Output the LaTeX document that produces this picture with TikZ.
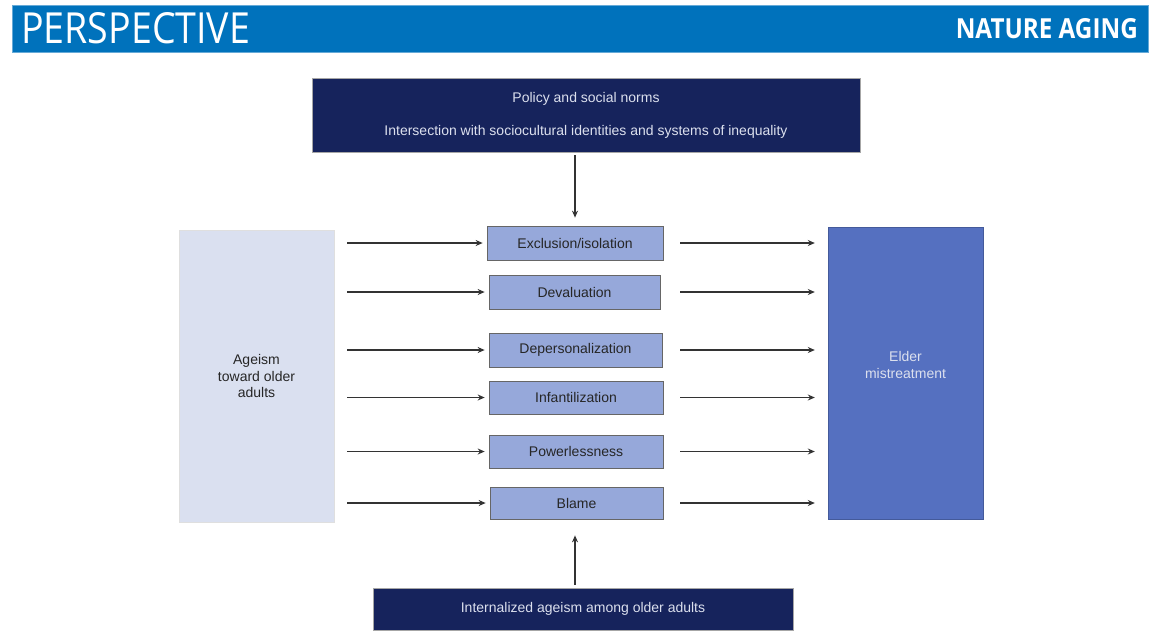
\documentclass[tikz,border=0pt]{standalone}
\usepackage{fontspec}
\setmainfont{Liberation Sans}
\newfontfamily\headfont{Open Sans}
\usetikzlibrary{arrows.meta,calc}
\definecolor{hdrblue}{HTML}{0072BC}
\definecolor{navy}{HTML}{16235C}
\definecolor{paleblue}{HTML}{DAE0F0}
\definecolor{midblue}{HTML}{96A8DA}
\definecolor{deepblue}{HTML}{5570C0}
\definecolor{lighttxt}{HTML}{DCE0EE}
\definecolor{arrowgray}{HTML}{333333}
\tikzset{
  navybox/.style={draw=gray!70, line width=0.6pt, fill=navy, text=lighttxt, font=\fontsize{14}{16}\selectfont, inner sep=0pt},
  midbox/.style={draw=gray!80!black, line width=0.7pt, fill=midblue, text=black!85, font=\fontsize{14}{16}\selectfont, inner sep=0pt},
  sidebox/.style={inner sep=0pt, font=\fontsize{14}{16.5}\selectfont, align=center},
  arr/.style={draw=arrowgray, line width=1.3pt, -{Stealth[length=7pt,width=6pt]}},
}
\begin{document}
\begin{tikzpicture}[x=1pt,y=-1pt]
\useasboundingbox (0,0) rectangle (1153,633);
\fill[white] (0,0) rectangle (1153,633);
% header
\node[fill=hdrblue, draw=hdrblue!60, minimum width=1136pt, minimum height=47pt, inner sep=0pt] (H) at (580,28.5) {};
\node[anchor=west, text=white, inner sep=0pt] (P) at (21,28) {\resizebox{229pt}{31pt}{\headfont PERSPECTIVE}};
\node[anchor=east, text=white, inner sep=0pt] (N) at (1138,28.5) {\resizebox{182pt}{20pt}{\headfont\bfseries NATURE AGING}};
% top box
\node[navybox, minimum width=548pt, minimum height=74pt] (T) at (586,115) {};
\node[text=lighttxt, font=\fontsize{14}{16}\selectfont, inner sep=0pt] (T1) at (586,98.5) {Policy and social norms};
\node[text=lighttxt, font=\fontsize{14}{16}\selectfont, inner sep=0pt] (T2) at (586,131.5) {Intersection with sociocultural identities and systems of inequality};
% side boxes
\node[sidebox, fill=paleblue, draw=gray!25, minimum width=155pt, minimum height=292pt, text=black!85] (L) at (256.5,376) {Ageism\\toward older\\adults};
\node[sidebox, fill=deepblue, draw=deepblue!80!black, minimum width=155pt, minimum height=292pt, anchor=north] (R) at (905.5,227) {};
\node[sidebox, text=lighttxt] (Rt) at (905.5,365) {Elder\\mistreatment};
% middle boxes
\node[midbox, minimum width=176pt, minimum height=34pt] (m1) at (575,243) {Exclusion/isolation};
\node[midbox, minimum width=171pt, minimum height=34pt] (m2) at (574.5,292) {Devaluation};
\node[midbox, minimum width=173pt, minimum height=34pt] (m3) at (575.5,350) {Depersonalization};
\node[midbox, minimum width=174pt, minimum height=33pt] (m4) at (576,397.5) {Infantilization};
\node[midbox, minimum width=174pt, minimum height=33pt] (m5) at (576,451.5) {Powerlessness};
\node[midbox, minimum width=173pt, minimum height=32pt] (m6) at (576.5,503) {Blame};
% bottom box
\node[navybox, minimum width=420pt, minimum height=42pt] (B) at (583,609) {Internalized ageism among older adults};
% arrows
\foreach \m in {m1,m2,m3,m4,m5,m6}{
  \draw[arr] ($(L.east|-\m.west)+(13,0)$) -- ($(\m.west)+(-4,0)$);
  \draw[arr] ($(m1.east|-\m.east)+(17,0)$) -- ($(R.west|-\m.east)+(-13,0)$);
}
\draw[arr] ($(T.south-|m1.north)+(0,3)$) -- ($(m1.north)+(0,-8)$);
\draw[arr] ($(B.north-|m6.south)+(-1.5,-3)$) -- ($(m6.south)+(-1.5,16)$);
\end{tikzpicture}
\end{document}
